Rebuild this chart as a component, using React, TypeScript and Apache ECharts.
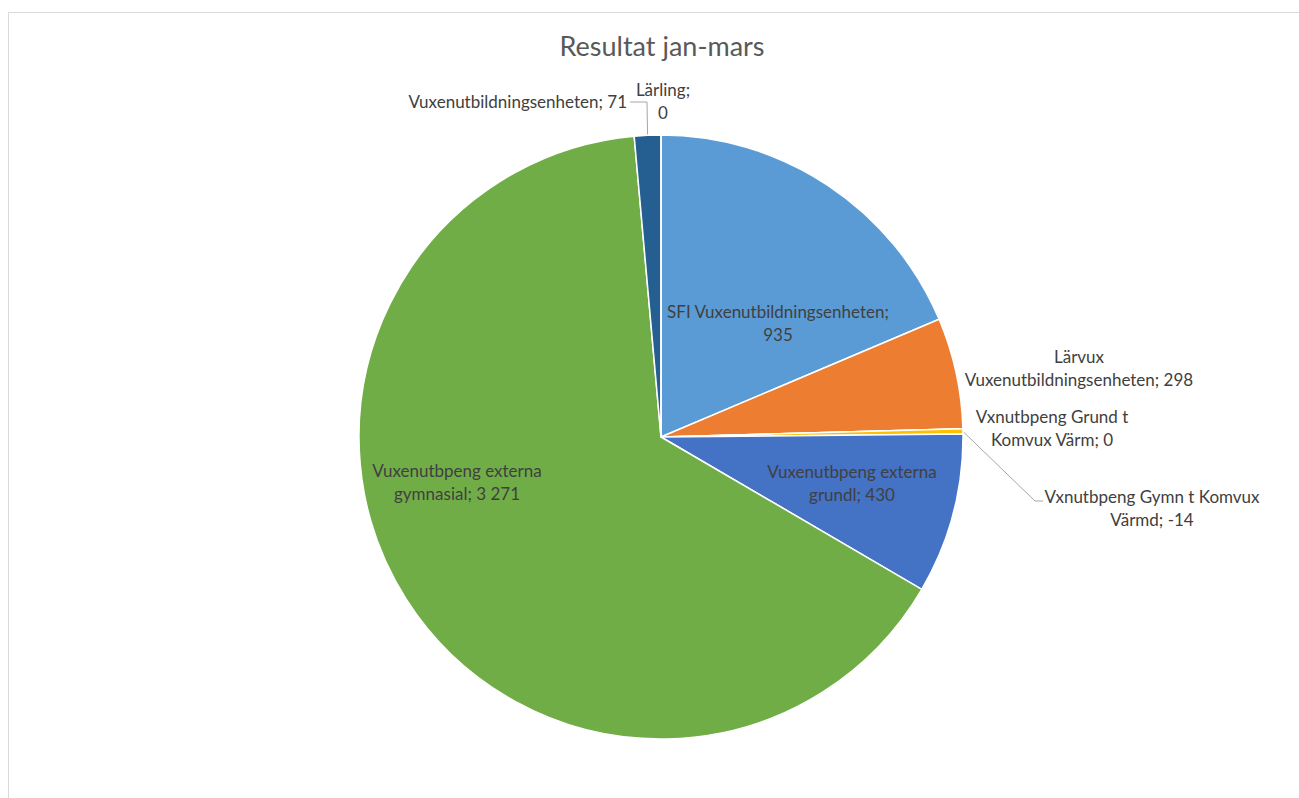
import React, { useEffect, useRef } from "react";
import * as echarts from "echarts";

const chartTitle = "Resultat jan-mars";
const categories = [
  "SFI Vuxenutbildningsenheten",
  "Lärvux Vuxenutbildningsenheten",
  "Vxnutbpeng Grund t Komvux Värm",
  "Vxnutbpeng Gymn t Komvux Värmd",
  "Vuxenutbpeng externa grundl",
  "Vuxenutbpeng externa gymnasial",
  "Vuxenutbildningsenheten",
  "Lärling",
];
const values = [935, 298, 0, -14, 430, 3271, 71, 0];
const colors = ["#5B9BD5", "#ED7D31", "#A5A5A5", "#FFC000", "#4472C4", "#70AD47", "#255E91", "#9E480E"];

// layout (not data)
const wrapAfter = [2, 1, 3, 4, 2, 2, 0, 1];
const labelPos: [number, number][] = [
  [769, 309.5],
  [1070, 355],
  [1043, 415],
  [1143, 495],
  [843, 469.5],
  [448, 469],
  [618, 88],
  [654, 88],
];
const labelAlign = ["center", "center", "center", "center", "center", "center", "right", "center"];
const leaders: Record<number, [number, number][]> = {
  3: [[1026, 488], [1034, 488]],
  6: [[638, 89], [621, 89]],
};

const fmt = (v: number) => String(v).replace(/\B(?=(\d{3})+(?!\d))/g, " ");

function labelText(i: number) {
  const full = `${categories[i]}; ${fmt(values[i])}`;
  const n = wrapAfter[i];
  if (!n) return full;
  const words = full.split(" ");
  return words.slice(0, n).join(" ") + "\n" + words.slice(n).join(" ");
}

export default function App() {
  const ref = useRef<HTMLDivElement>(null);
  useEffect(() => {
    if (!ref.current) return;
    const chart = echarts.init(ref.current, undefined, { renderer: "svg" });
    const font = "Lato, 'Noto Sans', sans-serif";
    chart.setOption({
      animation: false,
      title: {
        text: chartTitle,
        left: 648,
        top: 14,
        textAlign: "center",
        textStyle: { fontFamily: font, fontSize: 27, fontWeight: "normal", color: "#595959" },
      },
      series: [
        {
          type: "pie",
          center: [652, 424],
          radius: 302,
          startAngle: 90,
          clockwise: true,
          avoidLabelOverlap: false,
          itemStyle: { borderColor: "#ffffff", borderWidth: 1.5 },
          emphasis: { disabled: true },
          label: {
            show: true,
            position: "outside",
            fontFamily: font,
            fontSize: 17,
            lineHeight: 23,
            color: "#404040",
            formatter: (p: any) => labelText(p.dataIndex),
          },
          labelLine: { show: false, lineStyle: { color: "#A6A6A6", width: 1 } },
          labelLayout: (p: any) => {
            const i = p.dataIndex;
            const out: any = {
              x: labelPos[i][0],
              y: labelPos[i][1],
              align: labelAlign[i],
              verticalAlign: "middle",
            };
            if (leaders[i] && p.labelLinePoints) {
              out.labelLinePoints = [p.labelLinePoints[0], ...leaders[i]];
            }
            return out;
          },
          data: categories.map((name, i) => ({
            name,
            value: Math.abs(values[i]),
            itemStyle: { color: colors[i] },
            labelLine: { show: !!leaders[i], length: 10, length2: 10 },
          })),
        },
      ],
    });
    return () => chart.dispose();
  }, []);
  return (
    <div
      style={{
        position: "fixed",
        left: 8,
        top: 12,
        width: 1291,
        height: 786,
        borderLeft: "1px solid #D9D9D9",
        borderTop: "1px solid #D9D9D9",
        background: "#fff",
      }}
    >
      <div ref={ref} style={{ width: 1290, height: 785 }} />
    </div>
  );
}
